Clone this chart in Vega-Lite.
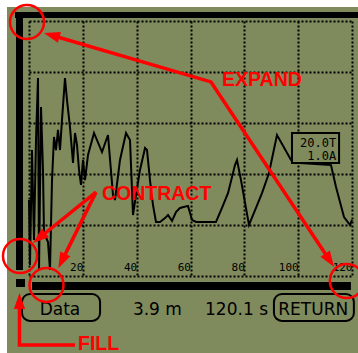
{
  "$schema": "https://vega.github.io/schema/vega-lite/v6.json",
  "width": 323,
  "height": 255,
  "autosize": {"type": "none"},
  "padding": {"left": 29, "top": 21, "right": 6, "bottom": 77},
  "background": "#7f8a5d",
  "config": {
    "view": {"stroke": null}
  },
  "datasets": {
    "trace": [
      {"x": 0, "y": 29.8}, {"x": 0.37, "y": 4.3}, {"x": 1.11, "y": 49.4}, {"x": 1.86, "y": 14.1},
      {"x": 2.6, "y": 53.3}, {"x": 3.34, "y": 77.6}, {"x": 3.72, "y": 2.4}, {"x": 4.46, "y": 66.3},
      {"x": 5.2, "y": 41.6}, {"x": 5.57, "y": 16.9}, {"x": 7.06, "y": 13.3}, {"x": 7.8, "y": 2.4},
      {"x": 8.55, "y": 37.6}, {"x": 9.29, "y": 54.5}, {"x": 10.03, "y": 49.4}, {"x": 10.77, "y": 57.3},
      {"x": 11.52, "y": 49.4}, {"x": 12.26, "y": 61.2}, {"x": 13.37, "y": 77.6}, {"x": 14.12, "y": 69.0},
      {"x": 15.23, "y": 58.4}, {"x": 16.35, "y": 44.3}, {"x": 17.09, "y": 56.1}, {"x": 17.83, "y": 51.4},
      {"x": 18.58, "y": 41.6}, {"x": 19.32, "y": 35.7}, {"x": 20.06, "y": 45.5}, {"x": 20.81, "y": 37.6},
      {"x": 21.92, "y": 47.5}, {"x": 24.15, "y": 56.1}, {"x": 27.12, "y": 48.6}, {"x": 29.35, "y": 55.3},
      {"x": 31.21, "y": 31.8}, {"x": 31.95, "y": 29.8}, {"x": 33.81, "y": 45.5}, {"x": 36.04, "y": 56.1},
      {"x": 37.52, "y": 53.3}, {"x": 38.64, "y": 23.9}, {"x": 39.75, "y": 31.8}, {"x": 41.24, "y": 41.6},
      {"x": 43.1, "y": 50.2}, {"x": 43.84, "y": 49.4}, {"x": 44.95, "y": 37.6}, {"x": 46.07, "y": 27.8},
      {"x": 47.18, "y": 21.2}, {"x": 48.67, "y": 21.2}, {"x": 50.53, "y": 22.7}, {"x": 51.64, "y": 23.9},
      {"x": 53.13, "y": 21.6}, {"x": 54.61, "y": 25.1}, {"x": 56.1, "y": 26.7}, {"x": 59.07, "y": 27.5},
      {"x": 60.56, "y": 22.0}, {"x": 62.05, "y": 21.2}, {"x": 69.47, "y": 21.2}, {"x": 71.7, "y": 26.7},
      {"x": 73.93, "y": 32.5}, {"x": 76.53, "y": 43.5}, {"x": 77.28, "y": 45.5}, {"x": 78.76, "y": 37.6},
      {"x": 81.73, "y": 20.0}, {"x": 84.33, "y": 26.7}, {"x": 86.56, "y": 32.5}, {"x": 89.16, "y": 40.4},
      {"x": 92.13, "y": 55.3}, {"x": 97.34, "y": 45.5}, {"x": 100.68, "y": 44.3}, {"x": 112.2, "y": 43.5},
      {"x": 114.06, "y": 34.9}, {"x": 117.03, "y": 23.1}, {"x": 119.26, "y": 20.0}, {"x": 120, "y": 22.0}
    ],
    "frame": [
      {"kind": "white", "x": -11, "x2": -8.17, "y": -31, "y2": 109},
      {"kind": "white", "x": -11, "x2": 123, "y": 105.5, "y2": 109},
      {"kind": "black", "x": -5.2, "x2": 123, "y": 101.2, "y2": 103.5},
      {"kind": "black", "x": -4.83, "x2": -2.23, "y": 2.35, "y2": 101.2},
      {"kind": "black", "x": 1.11, "x2": 119.6, "y": -5.49, "y2": -2.35},
      {"kind": "black", "x": -4.83, "x2": -1.49, "y": -4.31, "y2": -1.18}
    ],
    "buttons": [
      {"name": "Data", "x": -2.6, "x2": 26.4, "y": -17.6, "y2": -7.06},
      {"name": "RETURN", "x": 91.0, "x2": 120.7, "y": -17.6, "y2": -7.06}
    ],
    "status": [
      {"text": "Data", "x": 11.5, "y": -15.3},
      {"text": "3.9 m", "x": 47.7, "y": -15.3},
      {"text": "120.1 s", "x": 77.1, "y": -15.3},
      {"text": "RETURN", "x": 105.6, "y": -15.3}
    ],
    "scalebox": [
      {"x": 97.7, "x2": 115.2, "y": 44.3, "y2": 56.1}
    ],
    "scaletext": [
      {"text": "20.0T", "x": 114.1, "y": 50.6},
      {"text": "1.0A", "x": 114.1, "y": 45.6}
    ],
    "arrows": [
      {"id": "expand", "i": 0, "x": 8.43, "y": 94.4},
      {"id": "expand", "i": 1, "x": 67.6, "y": 76.1},
      {"id": "expand", "i": 2, "x": 111.7, "y": 6.16},
      {"id": "contract1", "i": 0, "x": 24.9, "y": 32.9},
      {"id": "contract1", "i": 1, "x": 3.79, "y": 14.9},
      {"id": "contract2", "i": 0, "x": 24.9, "y": 32.9},
      {"id": "contract2", "i": 1, "x": 12.19, "y": 5.84},
      {"id": "fill", "i": 0, "x": 17.1, "y": -27.06},
      {"id": "fill", "i": 1, "x": -3.53, "y": -27.06},
      {"id": "fill", "i": 2, "x": -3.53, "y": -9.8}
    ],
    "heads": [
      {"id": "e1", "x": 8.43, "y": 94.4},
      {"id": "e2", "x": 111.7, "y": 6.16},
      {"id": "c1", "x": 3.79, "y": 14.9},
      {"id": "c2", "x": 12.19, "y": 5.84},
      {"id": "f", "x": -3.53, "y": -9.8}
    ],
    "circles": [
      {"id": "expand-start", "x": -0.74, "y": 99.6},
      {"id": "expand-end", "x": 118.1, "y": -1.96},
      {"id": "contract-a", "x": -3.34, "y": 7.84},
      {"id": "contract-b", "x": 6.5, "y": -3.5}
    ],
    "labels": [
      {"text": "EXPAND", "x": 71.7, "y": 74.5},
      {"text": "CONTRACT", "x": 27.1, "y": 29.8},
      {"text": "FILL", "x": 18.2, "y": -29.0}
    ]
  },
  "encoding": {
    "x": {"field": "x", "type": "quantitative", "scale": {"domain": [0, 120], "nice": false, "zero": false},
      "axis": {"orient": "bottom", "values": [0, 20, 40, 60, 80, 100, 120], "domain": false, "ticks": false, "tickSize": 0,
        "grid": true, "gridColor": "#000000", "gridDash": [2, 2], "gridWidth": 2, "gridOpacity": 1,
        "labels": true, "labelExpr": "datum.value == 0 ? '' : datum.label", "labelAlign": "right", "labelDx": -2, "labelBaseline": "alphabetic", "labelPadding": -6,
        "labelFont": "DejaVu Sans Mono", "labelFontSize": 11, "labelColor": "#000000", "labelFlush": false, "labelOverlap": false, "title": null}},
    "y": {"field": "y", "type": "quantitative", "scale": {"domain": [0, 100], "nice": false, "zero": false},
      "axis": {"orient": "left", "values": [0, 20, 40, 60, 80, 100], "domain": false, "ticks": false, "tickSize": 0,
        "grid": true, "gridColor": "#000000", "gridDash": [2, 2], "gridWidth": 2, "gridOpacity": 1, "labels": false, "title": null}}
  },
  "layer": [
    {
      "data": {"name": "frame"},
      "transform": [{"filter": "datum.kind === 'white'"}],
      "mark": {"type": "rect", "fill": "#ffffff"},
      "encoding": {"x2": {"field": "x2"}, "y2": {"field": "y2"}}
    },
    {
      "data": {"name": "frame"},
      "transform": [{"filter": "datum.kind === 'black'"}],
      "mark": {"type": "rect", "fill": "#000000"},
      "encoding": {"x2": {"field": "x2"}, "y2": {"field": "y2"}}
    },
    {
      "data": {"name": "trace"},
      "mark": {"type": "line", "color": "#000000", "strokeWidth": 2, "interpolate": "linear"},
      "encoding": {}
    },
    {
      "data": {"name": "scalebox"},
      "mark": {"type": "rect", "fill": "#7f8a5d", "stroke": "#000000", "strokeWidth": 2},
      "encoding": {"x2": {"field": "x2"}, "y2": {"field": "y2"}}
    },
    {
      "data": {"name": "scaletext"},
      "mark": {"type": "text", "align": "right", "baseline": "alphabetic", "font": "DejaVu Sans Mono", "fontSize": 12, "color": "#000000"},
      "encoding": {"text": {"field": "text"}}
    },
    {
      "data": {"name": "buttons"},
      "mark": {"type": "rect", "fill": null, "fillOpacity": 0, "stroke": "#000000", "strokeWidth": 2, "cornerRadius": 8},
      "encoding": {"x2": {"field": "x2"}, "y2": {"field": "y2"}}
    },
    {
      "data": {"name": "status"},
      "mark": {"type": "text", "align": "center", "baseline": "alphabetic", "font": "DejaVu Sans", "fontSize": 17, "color": "#000000"},
      "encoding": {"text": {"field": "text"}}
    },
    {
      "data": {"name": "arrows"},
      "mark": {"type": "line", "color": "#ff0000", "strokeWidth": 3.5},
      "encoding": {"detail": {"field": "id"}, "order": {"field": "i"}}
    },
    {
      "data": {"name": "circles"},
      "mark": {"type": "point", "shape": "circle", "filled": false, "size": 1156, "stroke": "#ff0000", "strokeWidth": 2.5, "opacity": 1},
      "encoding": {}
    },
    {
      "data": {"name": "heads"},
      "transform": [{"filter": "datum.id === 'e1'"}],
      "mark": {"type": "point", "shape": "M0,-1L-0.7,1L0.7,1Z", "filled": true, "color": "#ff0000", "size": 256, "angle": 286, "opacity": 1},
      "encoding": {}
    },
    {
      "data": {"name": "heads"},
      "transform": [{"filter": "datum.id === 'e2'"}],
      "mark": {"type": "point", "shape": "M0,-1L-0.7,1L0.7,1Z", "filled": true, "color": "#ff0000", "size": 256, "angle": 146, "opacity": 1},
      "encoding": {}
    },
    {
      "data": {"name": "heads"},
      "transform": [{"filter": "datum.id === 'c1'"}],
      "mark": {"type": "point", "shape": "M0,-1L-0.7,1L0.7,1Z", "filled": true, "color": "#ff0000", "size": 256, "angle": 231, "opacity": 1},
      "encoding": {}
    },
    {
      "data": {"name": "heads"},
      "transform": [{"filter": "datum.id === 'c2'"}],
      "mark": {"type": "point", "shape": "M0,-1L-0.7,1L0.7,1Z", "filled": true, "color": "#ff0000", "size": 256, "angle": 206, "opacity": 1},
      "encoding": {}
    },
    {
      "data": {"name": "heads"},
      "transform": [{"filter": "datum.id === 'f'"}],
      "mark": {"type": "point", "shape": "M0,-1L-0.7,1L0.7,1Z", "filled": true, "color": "#ff0000", "size": 256, "angle": 0, "opacity": 1},
      "encoding": {}
    },
    {
      "data": {"name": "labels"},
      "mark": {"type": "text", "align": "left", "baseline": "alphabetic", "font": "Liberation Sans", "fontWeight": "bold", "fontSize": 19.5, "color": "#ff0000"},
      "encoding": {"text": {"field": "text"}}
    }
  ]
}
